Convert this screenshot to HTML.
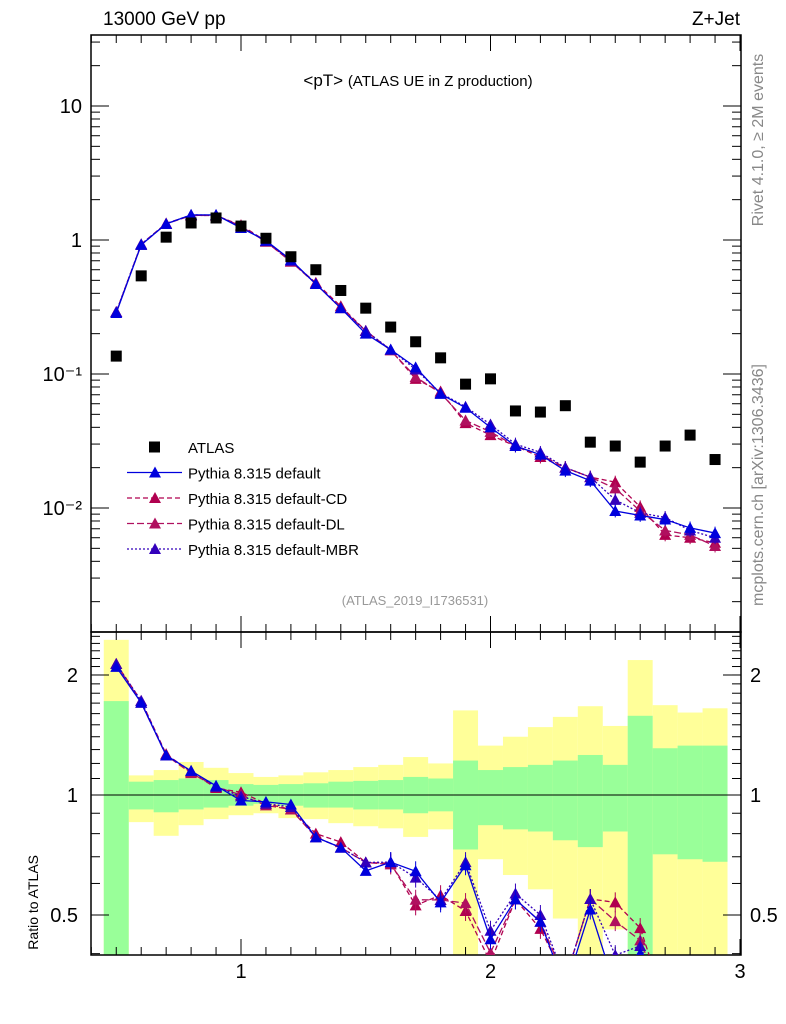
<!DOCTYPE html>
<html><head><meta charset="utf-8"><style>
body{margin:0;background:#fff;}
svg{display:block;font-family:"Liberation Sans",sans-serif;}
</style></head><body>
<svg id="c" width="786" height="1024" viewBox="0 0 786 1024"></svg>
<script>
const xCenters=[0.5,0.6,0.7,0.8,0.9,1.0,1.1,1.2,1.3,1.4,1.5,1.6,1.7,1.8,1.9,2.0,2.1,2.2,2.3,2.4,2.5,2.6,2.7,2.8,2.9];
const atlas=[0.136,0.54,1.05,1.34,1.46,1.27,1.03,0.75,0.60,0.42,0.31,0.224,0.174,0.132,0.084,0.092,0.053,0.052,0.058,0.031,0.029,0.022,0.029,0.035,0.023];
const pyDefault=[0.285,0.92,1.32,1.54,1.54,1.23,0.99,0.71,0.47,0.31,0.20,0.152,0.112,0.071,0.056,0.040,0.029,0.025,0.019,0.016,0.0095,0.0088,0.0082,0.0071,0.0065];
const pyCD=[0.29,0.93,1.33,1.53,1.52,1.29,0.98,0.69,0.48,0.32,0.21,0.151,0.092,0.074,0.043,0.035,0.029,0.024,0.020,0.017,0.0156,0.0102,0.0063,0.0060,0.0055];
const pyDL=[0.29,0.92,1.32,1.52,1.53,1.27,0.97,0.69,0.47,0.31,0.21,0.15,0.095,0.072,0.045,0.037,0.029,0.025,0.020,0.017,0.014,0.0095,0.0068,0.0063,0.0052];
const pyMBR=[0.29,0.93,1.32,1.54,1.53,1.26,0.98,0.70,0.47,0.31,0.21,0.152,0.108,0.072,0.057,0.042,0.030,0.026,0.020,0.017,0.0115,0.0092,0.0085,0.0068,0.0060];
const yelUp=[2.45,1.12,1.155,1.21,1.17,1.135,1.11,1.12,1.14,1.155,1.175,1.19,1.245,1.2,1.63,1.33,1.4,1.48,1.57,1.67,1.49,2.18,1.68,1.61,1.65];
const yelDn=[0.3,0.855,0.79,0.84,0.87,0.89,0.90,0.875,0.87,0.85,0.835,0.825,0.785,0.82,0.3,0.69,0.63,0.58,0.49,0.3,0.46,0.3,0.3,0.3,0.3];
const grnUp=[1.72,1.08,1.09,1.10,1.09,1.065,1.06,1.065,1.07,1.08,1.085,1.09,1.11,1.1,1.22,1.155,1.175,1.19,1.22,1.26,1.19,1.58,1.31,1.33,1.33];
const grnDn=[0.3,0.92,0.905,0.92,0.93,0.94,0.95,0.94,0.93,0.93,0.92,0.92,0.90,0.91,0.73,0.84,0.82,0.81,0.77,0.74,0.81,0.3,0.71,0.69,0.68];
const yTickLabels=["10","1","10\u207B\u00B9","10\u207B\u00B2"];
const xTickLabels=["1","2","3"];

const NS="http://www.w3.org/2000/svg";
const svg=document.getElementById('c');
function mk(tag,attrs,parent){const e=document.createElementNS(NS,tag);for(const k in attrs)e.setAttribute(k,attrs[k]);(parent||svg).appendChild(e);return e;}
const L=91,R=741,T1=35,B1=632,B2=955;
const X=v=>-8.5+v*249.5;
const Y=v=>240-Math.log10(v)*134;
const YR=v=>{const c=Math.max(0.3,Math.min(3,v));return 795-Math.log10(c)*398.7;};

const defs=mk('defs',{});
const cp1=mk('clipPath',{id:'cm'},defs);mk('rect',{x:L,y:T1,width:R-L,height:B1-T1},cp1);
const cp2=mk('clipPath',{id:'cr'},defs);mk('rect',{x:L,y:B1,width:R-L,height:B2-B1},cp2);

const gBands=mk('g',{'clip-path':'url(#cr)'});


xCenters.forEach((x,i)=>{
  const r=mk('rect',{x:X(x-0.05),y:YR(yelUp[i]),width:X(x+0.05)-X(x-0.05),height:YR(yelDn[i])-YR(yelUp[i]),fill:'#ffff99'},gBands);
  
  
});
xCenters.forEach((x,i)=>{
  const r=mk('rect',{x:X(x-0.05),y:YR(grnUp[i]),width:X(x+0.05)-X(x-0.05),height:YR(grnDn[i])-YR(grnUp[i]),fill:'#99ff99'},gBands);
  
  
});
mk('line',{x1:L,x2:R,y1:YR(1),y2:YR(1),stroke:'#000','stroke-width':1});

mk('rect',{x:L,y:T1,width:R-L,height:B1-T1,fill:'none',stroke:'#000','stroke-width':1.5});
mk('rect',{x:L,y:B1,width:R-L,height:B2-B1,fill:'none',stroke:'#000','stroke-width':1.5});

for(let k=4;k<=30;k++){const v=k/10,px=X(v),maj=(k%10===0);
  [[B1,-1],[T1,1],[B2,-1],[B1,1]].forEach(([y0,d])=>mk('line',{x1:px,x2:px,y1:y0,y2:y0+d*(maj?16:8),stroke:'#000','stroke-width':1}));
}
xTickLabels.forEach((t,i)=>{const e=mk('text',{x:X(i+1),y:978,'font-size':20,'text-anchor':'middle'});e.textContent=t;
  });

for(let d=-3;d<=1;d++){for(let m=1;m<10;m++){const v=m*Math.pow(10,d),py=Y(v);if(py<T1||py>B1)continue;const len=m===1?18:9;
  mk('line',{x1:L,x2:L+len,y1:py,y2:py,stroke:'#000'});mk('line',{x1:R,x2:R-len,y1:py,y2:py,stroke:'#000'});}}
[10,1,0.1,0.01].forEach((v,i)=>{const e=mk('text',{x:82,y:Y(v)+7,'font-size':20,'text-anchor':'end'});e.textContent=yTickLabels[i];
  });

[0.4,0.5,0.6,0.7,0.8,0.9,1,2].forEach(v=>{const py=YR(v);const maj=(v===0.5||v===1||v===2);const len=maj?18:9;
  mk('line',{x1:L,x2:L+len,y1:py,y2:py,stroke:'#000'});mk('line',{x1:R,x2:R-len,y1:py,y2:py,stroke:'#000'});});
for(let k=11;k<=25;k++){const v=k/10,py=YR(v);if(py<B1)continue;mk('line',{x1:L,x2:L+9,y1:py,y2:py,stroke:'#000'});mk('line',{x1:R,x2:R-9,y1:py,y2:py,stroke:'#000'});}
[[2,'2'],[1,'1'],[0.5,'0.5']].forEach(([v,t])=>{
  const a=mk('text',{x:78,y:YR(v)+7,'font-size':20,'text-anchor':'end'});a.textContent=t;
  const b=mk('text',{x:750,y:YR(v)+7,'font-size':20}); b.textContent=t;});

const series=[
 {name:'pythia-default',data:pyDefault,color:'#0000dd',dash:''},
 {name:'pythia-cd',data:pyCD,color:'#b0004f',dash:'5,3'},
 {name:'pythia-dl',data:pyDL,color:'#b0105f',dash:'7,3'},
 {name:'pythia-mbr',data:pyMBR,color:'#3300bb',dash:'2,2'}];
function tri(g,x,y,c){return mk('polygon',{points:`${x},${y-6} ${x-6},${y+5} ${x+6},${y+5}`,fill:c},g);}
[1,2,3,0].forEach(si=>{const s=series[si];
  const g=mk('g',{'clip-path':'url(#cm)'});
  mk('polyline',{points:xCenters.map((x,i)=>X(x)+','+Y(s.data[i])).join(' '),fill:'none',stroke:s.color,'stroke-width':1.3,'stroke-dasharray':s.dash},g);
  xCenters.forEach((x,i)=>{const e=Math.max(1,(x>2?0.12:0.02)*134*0.4);mk('line',{x1:X(x),x2:X(x),y1:Y(s.data[i])-e,y2:Y(s.data[i])+e,stroke:s.color},g);
    const p=tri(g,X(x),Y(s.data[i]),s.color);});
  const gr=mk('g',{'clip-path':'url(#cr)'});
  mk('polyline',{points:xCenters.map((x,i)=>X(x)+','+YR(s.data[i]/atlas[i])).join(' '),fill:'none',stroke:s.color,'stroke-width':1.3,'stroke-dasharray':s.dash},gr);
  xCenters.forEach((x,i)=>{const e=x>1.5?10:3;const py=YR(s.data[i]/atlas[i]);mk('line',{x1:X(x),x2:X(x),y1:py-e,y2:py+e,stroke:s.color},gr);
    const p=tri(gr,X(x),py,s.color);});
});
const ga=mk('g',{'clip-path':'url(#cm)'});
xCenters.forEach((x,i)=>{const r=mk('rect',{x:X(x)-5.5,y:Y(atlas[i])-5.5,width:11,height:11,fill:'#000'},ga);});

const lg=mk('g',{});
const ents=[['ATLAS',null],['Pythia 8.315 default',series[0]],['Pythia 8.315 default-CD',series[1]],['Pythia 8.315 default-DL',series[2]],['Pythia 8.315 default-MBR',series[3]]];
ents.forEach((en,i)=>{const y=447+i*25.5;const g=mk('g',{},lg);
  if(!en[1]){mk('rect',{x:149,y:y-5.5,width:11,height:11,fill:'#000'},g);}
  else{mk('line',{x1:127,x2:182,y1:y,y2:y,stroke:en[1].color,'stroke-width':1.3,'stroke-dasharray':en[1].dash},g);tri(g,155,y,en[1].color);}
  const t=mk('text',{x:188,y:y+6,'font-size':15},g);t.textContent=en[0];});

function txt(x,y,s,t,attrs,name){const e=mk('text',Object.assign({x:x,y:y,'font-size':s},attrs||{}));e.textContent=t;return e;}
txt(103,25,19,'13000 GeV pp',{},'energy-label');
txt(740,25,19,'Z+Jet',{'text-anchor':'end'},'process-label');
const ti=txt(418,86,15,'',{'text-anchor':'middle'},'plot-title');
const t1=mk('tspan',{'font-size':17},ti);t1.textContent='<pT> ';
const t2=mk('tspan',{},ti);t2.textContent='(ATLAS UE in Z production)';
txt(415,605,13,'(ATLAS_2019_I1736531)',{'text-anchor':'middle',fill:'#999'},'analysis-id');
txt(0,0,16,'Rivet 4.1.0, \u2265 2M events',{fill:'#888','text-anchor':'middle',transform:'translate(763,140) rotate(-90)'},'rivet-label');
txt(0,0,16,'mcplots.cern.ch [arXiv:1306.3436]',{fill:'#888','text-anchor':'middle',transform:'translate(763,485) rotate(-90)'},'mcplots-label');
txt(0,0,14,'Ratio to ATLAS',{'text-anchor':'end',transform:'translate(38,855) rotate(-90)'},'ratio-y-title');
</script>
</body></html>
